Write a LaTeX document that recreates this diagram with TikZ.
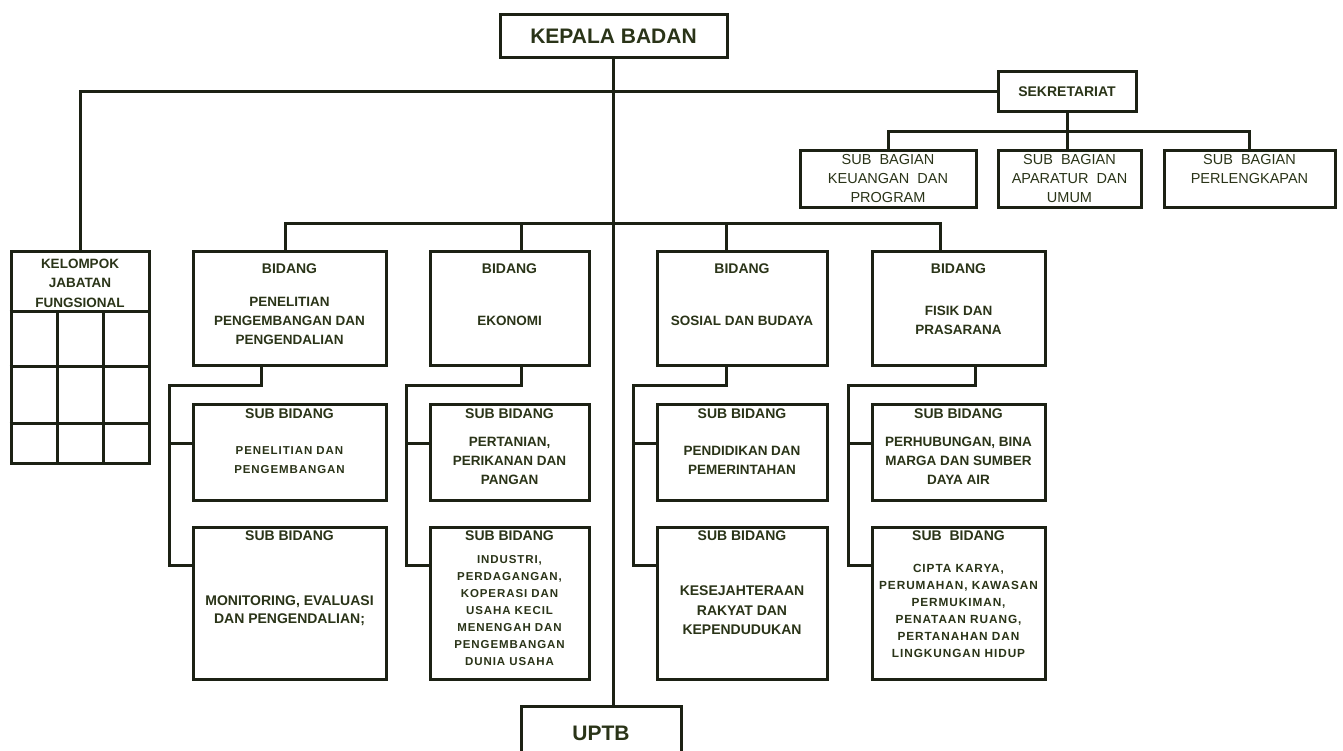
\documentclass[tikz,border=0pt]{standalone}
\usepackage{fontspec}
\setmainfont{Liberation Sans}
\newfontfamily\spacedfont[LetterSpace=8]{Liberation Sans}
\usetikzlibrary{calc}
\definecolor{linecol}{HTML}{1C2114}
\definecolor{txtcol}{HTML}{2A3418}
\newcommand{\setfs}[2]{\fontsize{#1}{#2}\selectfont}

\begin{document}
\begin{tikzpicture}[x=1pt, y=-1pt,
    box/.style={draw=linecol, line width=3pt, fill=white, inner sep=0pt},
    txt/.style={text=txtcol, font=\bfseries, align=center, inner sep=0pt},
    conn/.style={draw=linecol, line width=3pt}]
    \useasboundingbox (0,0) rectangle (1343,751);

    % Nodes
    \node[box, txt, minimum width=227pt, minimum height=43pt, font=\bfseries\setfs{21}{24}] (Kepala) at (613.5,36.5) {KEPALA BADAN};
    \node[box, txt, minimum width=138pt, minimum height=40pt, font=\bfseries\setfs{14}{16}] (Sekretariat) at (1067,92) {SEKRETARIAT};
    \node[box, txt, minimum width=160pt, minimum height=54pt, font=\bfseries\setfs{21}{24}] (Uptb) at (601,733) {UPTB};

    \node[box, minimum width=176pt, minimum height=57pt] (SubKeuangan) at (888,179.5) {};
    \node[box, minimum width=143pt, minimum height=57pt] (SubAparatur) at (1069.5,179.5) {};
    \node[box, minimum width=171pt, minimum height=57pt] (SubPerlengkapan) at (1249.5,179.5) {};
    \node[txt, font=\setfs{14.5}{19}, anchor=north] (SubKeuanganText) at ([yshift=-5pt]SubKeuangan.north) {SUB\ \ BAGIAN\\KEUANGAN\ \ DAN\\PROGRAM};
    \node[txt, font=\setfs{14.5}{19}, anchor=north] (SubAparaturText) at ([yshift=-5pt]SubAparatur.north) {SUB\ \ BAGIAN\\APARATUR\ \ DAN\\UMUM};
    \node[txt, font=\setfs{14.5}{19}, anchor=north] (SubPerlengkapanText) at ([yshift=-5pt]SubPerlengkapan.north) {SUB\ \ BAGIAN\\PERLENGKAPAN};

    \node[box, minimum width=138pt, minimum height=211pt] (Kelompok) at (80,357.5) {};
    \node[txt, font=\bfseries\setfs{13.5}{19.5}] (KelompokText) at (80,283) {KELOMPOK\\JABATAN\\FUNGSIONAL};

    \node[box, minimum width=193pt, minimum height=113pt] (BidPenelitian) at (289.5,308.5) {};
    \node[box, minimum width=159pt, minimum height=113pt] (BidEkonomi) at (509.5,308.5) {};
    \node[box, minimum width=170pt, minimum height=113pt] (BidSosial) at (742,308.5) {};
    \node[box, minimum width=173pt, minimum height=113pt] (BidFisik) at (958.5,308.5) {};
    \node[txt, font=\bfseries\setfs{14}{16}] (BidPenelitianTitle) at ([yshift=-18pt]BidPenelitian.north) {BIDANG};
    \node[txt, font=\bfseries\setfs{14}{16}] (BidEkonomiTitle) at ([yshift=-18pt]BidEkonomi.north) {BIDANG};
    \node[txt, font=\bfseries\setfs{14}{16}] (BidSosialTitle) at ([yshift=-18pt]BidSosial.north) {BIDANG};
    \node[txt, font=\bfseries\setfs{14}{16}] (BidFisikTitle) at ([yshift=-18pt]BidFisik.north) {BIDANG};
    \node[txt, font=\bfseries\setfs{13.5}{19}] (BidPenelitianText) at ([yshift=-70pt]BidPenelitian.north) {PENELITIAN\\PENGEMBANGAN DAN\\PENGENDALIAN};
    \node[txt, font=\bfseries\setfs{13.5}{19}] (BidEkonomiText) at ([yshift=-70pt]BidEkonomi.north) {EKONOMI};
    \node[txt, font=\bfseries\setfs{13.5}{19}] (BidSosialText) at ([yshift=-70pt]BidSosial.north) {SOSIAL DAN BUDAYA};
    \node[txt, font=\bfseries\setfs{13.5}{19}] (BidFisikText) at ([yshift=-70pt]BidFisik.north) {FISIK DAN\\PRASARANA};

    \node[box, minimum width=193pt, minimum height=96pt] (SubPenelitian) at (289.5,452) {};
    \node[box, minimum width=159pt, minimum height=96pt] (SubPertanian) at (509.5,452) {};
    \node[box, minimum width=170pt, minimum height=96pt] (SubPendidikan) at (742,452) {};
    \node[box, minimum width=173pt, minimum height=96pt] (SubPerhubungan) at (958.5,452) {};
    \node[box, minimum width=193pt, minimum height=152pt] (SubMonitoring) at (289.5,603) {};
    \node[box, minimum width=159pt, minimum height=152pt] (SubIndustri) at (509.5,603) {};
    \node[box, minimum width=170pt, minimum height=152pt] (SubKesejahteraan) at (742,603) {};
    \node[box, minimum width=173pt, minimum height=152pt] (SubCipta) at (958.5,603) {};

    \node[txt, font=\bfseries\setfs{14}{16}] (SubPenelitianTitle) at ([yshift=-11pt]SubPenelitian.north) {SUB BIDANG};
    \node[txt, font=\bfseries\setfs{14}{16}] (SubPertanianTitle) at ([yshift=-11pt]SubPertanian.north) {SUB BIDANG};
    \node[txt, font=\bfseries\setfs{14}{16}] (SubPendidikanTitle) at ([yshift=-11pt]SubPendidikan.north) {SUB BIDANG};
    \node[txt, font=\bfseries\setfs{14}{16}] (SubPerhubunganTitle) at ([yshift=-11pt]SubPerhubungan.north) {SUB BIDANG};
    \node[txt, font=\bfseries\setfs{14}{16}] (SubMonitoringTitle) at ([yshift=-10pt]SubMonitoring.north) {SUB BIDANG};
    \node[txt, font=\bfseries\setfs{14}{16}] (SubIndustriTitle) at ([yshift=-10pt]SubIndustri.north) {SUB BIDANG};
    \node[txt, font=\bfseries\setfs{14}{16}] (SubKesejahteraanTitle) at ([yshift=-10pt]SubKesejahteraan.north) {SUB BIDANG};
    \node[txt, font=\bfseries\setfs{14}{16}] (SubCiptaTitle) at ([yshift=-10pt]SubCipta.north) {SUB\ \ BIDANG};

    \node[txt, font=\spacedfont\bfseries\setfs{11.5}{19}] (SubPenelitianText) at ([yshift=-58pt]SubPenelitian.north) {PENELITIAN DAN\\PENGEMBANGAN};
    \node[txt, font=\bfseries\setfs{13.5}{19}] (SubPertanianText) at ([yshift=-58pt]SubPertanian.north) {PERTANIAN,\\PERIKANAN DAN\\PANGAN};
    \node[txt, font=\bfseries\setfs{13.5}{19.5}] (SubPendidikanText) at ([yshift=-58pt]SubPendidikan.north) {PENDIDIKAN DAN\\PEMERINTAHAN};
    \node[txt, font=\bfseries\setfs{13.5}{19}] (SubPerhubunganText) at ([yshift=-58pt]SubPerhubungan.north) {PERHUBUNGAN, BINA\\MARGA DAN SUMBER\\DAYA AIR};
    \node[txt, font=\bfseries\setfs{14}{18}] (SubMonitoringText) at ([yshift=-85pt]SubMonitoring.north) {MONITORING, EVALUASI\\DAN PENGENDALIAN;};
    \node[txt, font=\spacedfont\bfseries\setfs{11.5}{17}] (SubIndustriText) at ([yshift=-85pt]SubIndustri.north) {INDUSTRI,\\PERDAGANGAN,\\KOPERASI DAN\\USAHA KECIL\\MENENGAH DAN\\PENGEMBANGAN\\DUNIA USAHA};
    \node[txt, font=\bfseries\setfs{14}{19.5}] (SubKesejahteraanText) at ([yshift=-85pt]SubKesejahteraan.north) {KESEJAHTERAAN\\RAKYAT DAN\\KEPENDUDUKAN};
    \node[txt, font=\spacedfont\bfseries\setfs{11.8}{17}] (SubCiptaText) at ([yshift=-85pt]SubCipta.north) {CIPTA KARYA,\\PERUMAHAN, KAWASAN\\PERMUKIMAN,\\PENATAAN RUANG,\\PERTANAHAN DAN\\LINGKUNGAN HIDUP};

    % Kelompok grid
    \draw[conn] (Kelompok.west |- 0,311) -- (Kelompok.east |- 0,311);
    \draw[conn] (Kelompok.west |- 0,366) -- (Kelompok.east |- 0,366);
    \draw[conn] (Kelompok.west |- 0,423) -- (Kelompok.east |- 0,423);
    \draw[conn] (57,311) -- (57,311 |- Kelompok.south);
    \draw[conn] (103,311) -- (103,311 |- Kelompok.south);

    % Lines
    \draw[conn] (Kepala.south) -- (Kepala.south |- Uptb.north);
    \draw[conn] (Sekretariat.west) -| (Kelompok.north);
    \draw[conn] (Sekretariat.south) -- (Sekretariat.south |- SubAparatur.north);
    \draw[conn] (SubKeuangan.north) -- ++(0,-18) -| (SubPerlengkapan.north);

    \draw[conn] ([xshift=-4pt]BidPenelitian.north) -- ++(0,-27) -| ([xshift=-18pt]BidFisik.north);
    \draw[conn] ([xshift=12pt]BidEkonomi.north) -- ++(0,-27);
    \draw[conn] ([xshift=-16pt]BidSosial.north) -- ++(0,-27);

    \draw[conn] ([xshift=-28pt]BidPenelitian.south) -- ++(0,19) -| ($(SubMonitoring.west)+(-22,-38)$) -- ($(SubMonitoring.west)+(0,-38)$);
    \draw[conn] ($(SubPenelitian.west)+(-22,-9)$) -- ($(SubPenelitian.west)+(0,-9)$);
    \draw[conn] ([xshift=11.5pt]BidEkonomi.south) -- ++(0,19) -| ($(SubIndustri.west)+(-22,-38)$) -- ($(SubIndustri.west)+(0,-38)$);
    \draw[conn] ($(SubPertanian.west)+(-22,-9)$) -- ($(SubPertanian.west)+(0,-9)$);
    \draw[conn] ([xshift=-16pt]BidSosial.south) -- ++(0,19) -| ($(SubKesejahteraan.west)+(-22,-38)$) -- ($(SubKesejahteraan.west)+(0,-38)$);
    \draw[conn] ($(SubPendidikan.west)+(-22,-9)$) -- ($(SubPendidikan.west)+(0,-9)$);
    \draw[conn] ([xshift=16.5pt]BidFisik.south) -- ++(0,19) -| ($(SubCipta.west)+(-22,-38)$) -- ($(SubCipta.west)+(0,-38)$);
    \draw[conn] ($(SubPerhubungan.west)+(-22,-9)$) -- ($(SubPerhubungan.west)+(0,-9)$);
\end{tikzpicture}
\end{document}
